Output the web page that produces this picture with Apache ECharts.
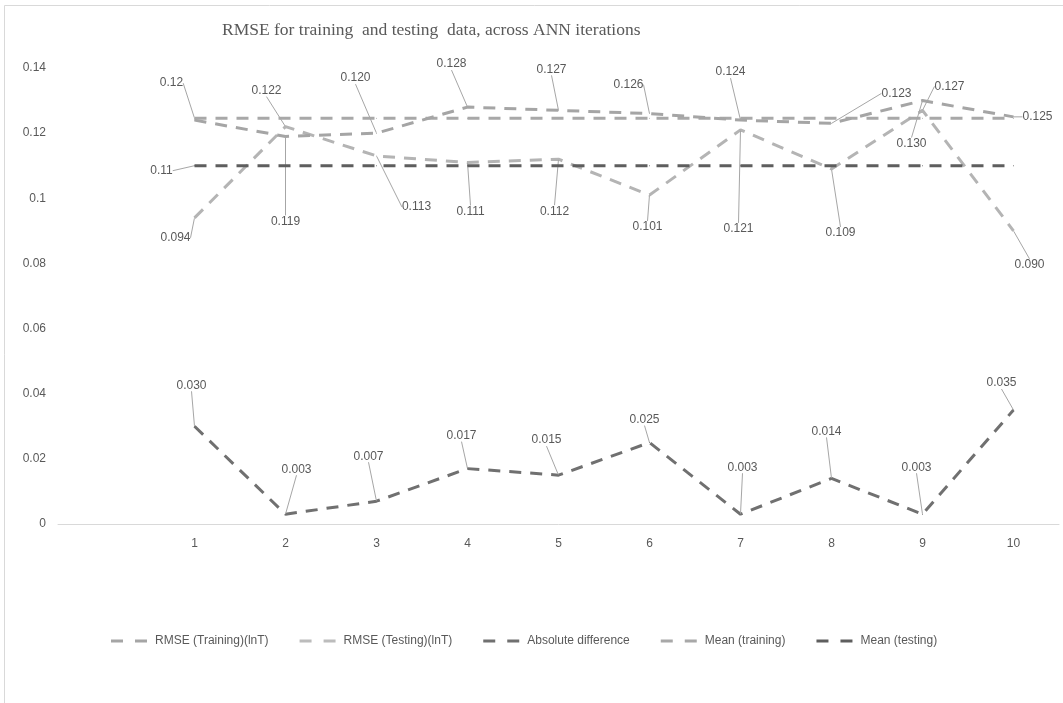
<!DOCTYPE html>
<html><head><meta charset="utf-8">
<script src="https://cdn.jsdelivr.net/npm/echarts@6/dist/echarts.min.js"></script>
<style>html,body{margin:0;padding:0;background:#fff}#c{width:1063px;height:703px}</style>
</head><body><div id="c"></div>
<script>
// ---- data ----
const iterations = ['1','2','3','4','5','6','7','8','9','10'];
const rmseTraining = [0.124, 0.119, 0.120, 0.128, 0.127, 0.126, 0.124, 0.123, 0.130, 0.125];
const rmseTesting  = [0.094, 0.122, 0.113, 0.111, 0.112, 0.101, 0.121, 0.109, 0.127, 0.090];
const absDiff      = [0.030, 0.003, 0.007, 0.017, 0.015, 0.025, 0.003, 0.014, 0.003, 0.035];
const meanTraining = [0.1246, 0.1246, 0.1246, 0.1246, 0.1246, 0.1246, 0.1246, 0.1246, 0.1246, 0.1246];
const meanTesting  = [0.110, 0.110, 0.110, 0.110, 0.110, 0.110, 0.110, 0.110, 0.110, 0.110];
const yTicks = { min: 0, max: 0.14, interval: 0.02 };
const seriesNames = ['RMSE (Training)(lnT)', 'RMSE (Testing)(lnT)', 'Absolute difference', 'Mean (training)', 'Mean (testing)'];

// ---- label placement (pixel offsets of label centre from the point; null = no label) ----
const offTraining = [null, [0,85], [-21,-55], [-16,-43], [-7,-41], [-21,-29], [-10,-48], [65,-30], [-11,43], [24,0]];
const offTesting  = [[-19,20], [-19,-36], [40,51], [3,49], [-4,52], [-2,32], [-2,99], [9,64], [27,-24], [16,34]];
const offAbs      = [[-3,-41], [11,-45], [-8,-45], [-6,-33], [-12,-35], [-5,-23], [2,-47], [-5,-47], [-6,-47], [-12,-27]];
const offMeanTr   = [[-23,-35], null, null, null, null, null, null, null, null, null];
const offMeanTe   = [[-33,5], null, null, null, null, null, null, null, null, null];

const categories = [''].concat(iterations);
const FONT = 'Liberation Sans';
const TXT = '#595959';

function build(values, offs){
  return [null].concat(values.map((v,i)=>({value:v, label:{show: offs[i]!=null}})));
}
const allOffs = [offTraining, offTesting, offAbs, offMeanTr, offMeanTe];

function mkSeries(idx, values, color, decimals, z){
  return {
    name: seriesNames[idx], type:'line', data: build(values, allOffs[idx]),
    symbol:'circle', symbolSize:1, showSymbol:true, z: z,
    itemStyle:{color: color},
    lineStyle:{color: color, width:3, type:[12,9], cap:'butt'},
    label:{show:true, position:'inside', color:TXT, fontFamily:FONT, fontSize:12,
      formatter: p => (p.value==null?'':Number(p.value).toFixed(decimals))},
    labelLine:{show:true, length2:0, lineStyle:{color:'#a6a6a6', width:1}},
    labelLayout: function(params){
      const o = allOffs[idx][params.dataIndex-1];
      if(!o) return {};
      return {dx:o[0], dy:o[1]};
    },
    emphasis:{disabled:true},
    animation:false
  };
}

const iconPath = 'path://M0,0h12v3h-12z M24,0h12v3h-12z';
const chart = echarts.init(document.getElementById('c'), null, {renderer:'canvas'});
chart.setOption({
  animation:false,
  backgroundColor:'#fff',
  title:{text:'RMSE for training  and testing  data, across ANN iterations', left:217, top:16,
    textStyle:{fontFamily:'Liberation Serif', fontSize:17.5, fontWeight:'normal', color:TXT}},
  graphic:[{type:'rect', shape:{x:4.5, y:5.5, width:1200, height:1000}, style:{fill:null, stroke:'#d9d9d9', lineWidth:1}, silent:true}],
  legend:{bottom:51, left:106, itemWidth:36, itemHeight:3, itemGap:31,
    icon: iconPath,
    textStyle:{fontFamily:FONT, fontSize:12, color:TXT, padding:[0,0,0,3]},
    data: seriesNames.map((n,i)=>({name:n, itemStyle:{color:['#a5a5a5','#bcbcbc','#707070','#a8a8a8','#5e5e5e'][i]}}))},
  grid:{left:58, right:4, top:68, bottom:179, containLabel:false},
  xAxis:{type:'category', data:categories, boundaryGap:true,
    axisLine:{lineStyle:{color:'#d9d9d9', width:1}}, axisTick:{show:false},
    axisLabel:{color:TXT, fontFamily:FONT, fontSize:12, margin:14}},
  yAxis:{type:'value', min:yTicks.min, max:yTicks.max, interval:yTicks.interval,
    axisLine:{show:false}, axisTick:{show:false}, splitLine:{show:false},
    axisLabel:{color:TXT, fontFamily:FONT, fontSize:12, margin:12}},
  series:[
    mkSeries(0, rmseTraining, '#a5a5a5', 3, 3),
    mkSeries(1, rmseTesting, '#b4b4b4', 3, 2),
    mkSeries(2, absDiff, '#707070', 3, 3),
    mkSeries(3, meanTraining, '#a8a8a8', 2, 2),
    mkSeries(4, meanTesting, '#5e5e5e', 2, 4)
  ]
});
</script></body></html>
